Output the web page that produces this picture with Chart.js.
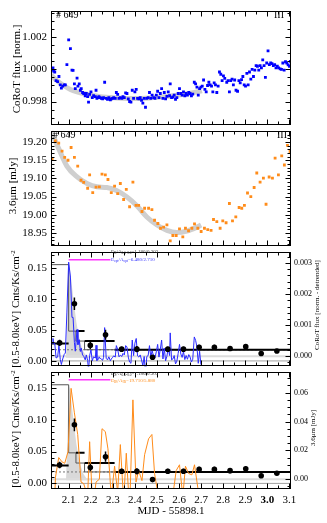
<!DOCTYPE html>
<html>
<head>
<meta charset="utf-8">
<script src="https://cdn.jsdelivr.net/npm/chart.js@4.4.1/dist/chart.umd.min.js"></script>
<style>
  html, body { margin: 0; padding: 0; background: #fff; }
  #wrap { position: relative; width: 327px; height: 523px; overflow: hidden;
          font-family: 'Liberation Serif', 'Times New Roman', serif; color: #000; }
  #wrap canvas { position: absolute; left: 0; }
  .lbl { position: absolute; white-space: nowrap; line-height: 1; transform: translate(0, -50%); z-index: 5; }
  .lbl.r { transform: translate(-100%, -50%); }
  .vt { position: absolute; white-space: nowrap; line-height: 1; transform: translate(-50%, -50%) rotate(-90deg); z-index: 5; }
  .vt sup { font-size: 7px; vertical-align: 4px; }
  .note { font-size: 5px; }
  .note sub { font-size: 3.5px; vertical-align: -1px; }
</style>
</head>
<body>
<div id="wrap">
  <canvas id="p1" width="327" height="136" style="top:0px"></canvas>
  <canvas id="p2" width="327" height="137" style="top:120px"></canvas>
  <canvas id="p3" width="327" height="136" style="top:241px"></canvas>
  <canvas id="p4" width="327" height="162" style="top:361px"></canvas>

  <div class="lbl" style="left:56px;top:15px;font-size:10px"># 649</div>
  <div class="lbl r" style="left:284px;top:15px;font-size:10px">III</div>
  <div class="lbl" style="left:53px;top:135px;font-size:10px"># 649</div>
  <div class="lbl r" style="left:287px;top:135px;font-size:10px">III</div>

  <div class="vt" style="left:16px;top:69px;font-size:11px">CoRoT flux [norm.]</div>
  <div class="vt" style="left:12px;top:186px;font-size:11px">3.6μm [mJy]</div>
  <div class="vt" style="left:15px;top:309px;font-size:11px">[0.5-8.0keV] Cnts/Ks/cm<sup>-2</sup></div>
  <div class="vt" style="left:15px;top:429px;font-size:11px">[0.5-8.0keV] Cnts/Ks/cm<sup>-2</sup></div>
  <div class="vt" style="left:317px;top:305px;font-size:7px">CoRoT flux [norm. - detrended]</div>
  <div class="vt" style="left:313px;top:428px;font-size:7px">3.6μm [mJy]</div>

  <div class="lbl note" style="left:111px;top:252px;color:#333">E<sub>X</sub>/A<sub>0.5-8.0</sub>=1.180/0.303</div>
  <div class="lbl note" style="left:111px;top:259.5px;color:#3333ff">E<sub>opt</sub>/A<sub>opt</sub>=6.480/2.710</div>
  <div class="lbl note" style="left:111px;top:374px;color:#333">E<sub>X</sub>/A<sub>0.5-8.0</sub>=1.180/0.303</div>
  <div class="lbl note" style="left:111px;top:381px;color:#ff8c1a">E<sub>IR</sub>/A<sub>IR</sub>=19.710/5.880</div>
</div>

<script>
// ── DATA ────────────────────────────────────────
const xTicks = [2.1, 2.2, 2.3, 2.4, 2.5, 2.6, 2.7, 2.8, 2.9, 3.0, 3.1];

// CoRoT light curve (normalised)
const corotT = [
  2.025,2.029,2.032,2.037,2.043,2.050,2.056,2.062,2.067,2.073,
  2.080,2.085,2.092,2.100,2.108,2.115,2.120,2.126,2.130,2.138,
  2.142,2.148,2.153,2.157,2.163,2.168,2.175,2.180,2.186,2.190,
  2.195,2.201,2.207,2.213,2.221,2.224,2.228,2.233,2.237,2.243,
  2.248,2.254,2.258,2.263,2.270,2.276,2.282,2.289,2.293,2.299,
  2.304,2.311,2.316,2.322,2.328,2.334,2.341,2.346,2.352,2.358,
  2.364,2.370,2.376,2.382,2.388,2.394,2.400,2.406,2.412,2.418,
  2.424,2.430,2.436,2.442,2.448,2.454,2.460,2.466,2.472,2.478,
  2.485,2.491,2.497,2.503,2.509,2.515,2.521,2.527,2.533,2.539,
  2.545,2.551,2.557,2.560,2.566,2.572,2.578,2.584,2.590,2.596,
  2.602,2.608,2.614,2.620,2.626,2.632,2.638,2.644,2.650,2.656,
  2.662,2.669,2.675,2.681,2.687,2.693,2.699,2.705,2.711,2.717,
  2.723,2.729,2.735,2.741,2.747,2.753,2.759,2.765,2.771,2.777,
  2.783,2.789,2.795,2.801,2.807,2.816,2.822,2.828,2.834,2.840,
  2.846,2.852,2.858,2.865,2.871,2.877,2.883,2.889,2.895,2.901,
  2.907,2.913,2.919,2.925,2.931,2.937,2.943,2.949,2.955,2.961,
  2.967,2.973,2.979,2.985,2.991,2.997,3.003,3.009,3.015,3.021,
  3.027,3.033,3.039,3.045,3.051,3.058,3.064,3.070,3.076,3.082,
  3.088,3.094,3.100,3.104
];
const corotF = [
  1.00000,1.00010,0.99990,0.99984,0.99930,0.99924,0.99956,0.99904,0.99884,0.99896,
  0.99904,0.99904,1.00030,1.00184,1.00130,0.99996,0.99994,0.99910,0.99880,0.99946,
  0.99896,0.99910,0.99870,0.99880,0.99856,0.99850,0.99836,0.99850,0.99830,0.99796,
  0.99844,0.99860,0.99824,0.99836,0.99830,0.99870,0.99820,0.99824,0.99830,0.99824,
  0.99820,0.99816,0.99824,0.99920,0.99820,0.99814,0.99824,0.99810,0.99816,0.99820,
  0.99824,0.99820,0.99856,0.99844,0.99820,0.99824,0.99820,0.99830,0.99824,0.99854,
  0.99850,0.99816,0.99800,0.99796,0.99870,0.99820,0.99860,0.99876,0.99820,0.99816,
  0.99824,0.99808,0.99790,0.99820,0.99764,0.99820,0.99824,0.99856,0.99820,0.99840,
  0.99824,0.99820,0.99840,0.99864,0.99824,0.99850,0.99880,0.99820,0.99856,0.99816,
  0.99832,0.99860,0.99836,0.99910,0.99824,0.99828,0.99840,0.99814,0.99824,0.99850,
  0.99880,0.99850,0.99840,0.99860,0.99836,0.99850,0.99840,0.99856,0.99850,0.99836,
  0.99846,0.99920,0.99910,0.99890,0.99840,0.99880,0.99890,0.99896,0.99934,0.99876,
  0.99860,0.99900,0.99920,0.99904,0.99896,0.99860,0.99916,0.99904,0.99856,0.99896,
  0.99984,0.99970,0.99930,0.99960,0.99944,0.99920,0.99930,0.99860,0.99930,0.99940,
  0.99904,0.99934,0.99870,0.99864,0.99930,0.99916,0.99936,0.99956,0.99904,0.99896,
  0.99976,0.99904,0.99984,0.99940,1.00000,0.99956,0.99996,1.00024,1.00020,0.99996,
  1.00024,1.00010,1.00060,1.00024,0.99950,1.00040,1.00116,1.00030,1.00040,1.00036,
  1.00024,1.00030,1.00010,1.00020,1.00010,1.00004,1.00000,1.00040,0.99996,1.00048,
  1.00040,1.00028,1.00020,1.00050
];
const corotModelT = [2.020, 2.047, 2.077, 2.108, 2.138, 2.183, 2.243, 2.319, 2.394, 2.469, 2.545, 2.620, 2.696, 2.703];
const corotModelF = [0.99964, 0.99930, 0.99900, 0.99875, 0.99860, 0.99845, 0.99830, 0.99822, 0.99818, 0.99822, 0.99832, 0.99845, 0.99865, 0.99868];
// detrended CoRoT flux, same time stamps as the first points of corotT
const corotResid = [
  0.00042,0.00057,0.00041,0.00041,-0.00006,-0.00003,0.00035,-0.00011,-0.00027,-0.00009,
  0.00006,0.00010,0.00142,0.00303,0.00255,0.00125,0.00125,0.00044,0.00016,0.00086,
  0.00037,0.00053,0.00015,0.00026,0.00004,0.00000,-0.00012,0.00004,-0.00014,-0.00047,
  0.00002,0.00020,-0.00015,-0.00002,-0.00006,0.00035,-0.00014,-0.00009,-0.00002,-0.00006,
  -0.00010,-0.00013,-0.00004,0.00092,-0.00007,-0.00012,-0.00002,-0.00015,-0.00009,-0.00004,
  0.00001,-0.00003,0.00034,0.00022,-0.00002,0.00003,-0.00001,0.00009,0.00004,0.00034,
  0.00030,-0.00003,-0.00019,-0.00023,0.00052,0.00002,0.00042,0.00057,0.00001,-0.00003,
  0.00004,-0.00012,-0.00030,-0.00001,-0.00057,-0.00001,0.00002,0.00034,-0.00002,0.00017,
  0.00000,-0.00005,0.00014,0.00038,-0.00003,0.00022,0.00052,-0.00009,0.00026,-0.00015,
  0.00000,0.00027,0.00002,0.00075,-0.00012,-0.00009,0.00002,-0.00025,-0.00016,0.00009,
  0.00038,0.00007,-0.00004,0.00015,-0.00011,0.00002,-0.00010,0.00005,-0.00003,-0.00019,
  -0.00010,0.00062,0.00051,0.00029,-0.00023,0.00016,-0.00027
];

// Spitzer 3.6um light curve (mJy)
const irT = [
  2.025,2.040,2.055,2.070,2.082,2.097,2.111,2.126,2.141,2.156,
  2.168,2.186,2.195,2.209,2.224,2.239,2.251,2.266,2.278,2.293,
  2.308,2.322,2.334,2.349,2.361,2.376,2.391,2.405,2.417,2.432,
  2.444,2.462,2.477,2.489,2.504,2.516,2.530,2.545,2.560,2.572,
  2.587,2.602,2.617,2.629,2.643,2.658,2.670,2.685,2.700,2.715,
  2.730,2.745,2.756,2.771,2.786,2.798,2.813,2.828,2.842,2.857,
  2.872,2.884,2.896,2.910,2.925,2.940,2.952,2.967,2.982,2.994,
  3.008,3.023,3.035,3.050,3.065,3.077,3.091,3.103
];
const irF = [
  19.152,19.203,19.197,19.175,19.158,19.150,19.185,19.158,19.134,19.095,
  19.089,19.073,19.110,19.061,19.076,19.077,19.112,19.110,19.097,19.061,
  19.079,19.058,19.086,19.042,19.070,19.022,19.090,19.026,19.026,19.009,
  19.018,19.018,19.014,18.985,18.976,18.963,18.966,18.972,18.928,18.943,
  18.943,18.961,18.939,18.963,18.956,18.963,18.975,18.963,18.954,18.963,
  18.959,18.957,18.987,18.981,18.963,18.983,18.978,19.031,18.983,18.994,
  19.020,19.018,19.026,19.060,19.050,19.075,19.115,19.090,19.101,19.029,
  19.104,19.101,19.156,19.110,19.162,19.137,19.191,19.174
];
const irModelT = [2.020, 2.055, 2.092, 2.138, 2.183, 2.228, 2.273, 2.319, 2.364, 2.409, 2.454, 2.500, 2.545, 2.590, 2.635, 2.681, 2.700];
const irModelF = [19.230, 19.182, 19.134, 19.104, 19.086, 19.077, 19.075, 19.066, 19.049, 19.025, 18.994, 18.972, 18.957, 18.951, 18.955, 18.966, 18.972];
// detrended 3.6um flux, same time stamps as the first points of irT
const irResid = [
  -0.070,0.001,0.015,0.012,0.011,0.019,0.063,0.046,0.031,-0.002,
  -0.003,-0.012,0.026,-0.020,-0.002,0.000,0.035,0.033,0.021,-0.012,
  0.009,-0.009,0.024,-0.015,0.018,-0.022,0.055,-0.002,0.006,-0.001,
  0.017,0.028,0.031,0.004,-0.010,-0.015,-0.012,-0.008,-0.027,-0.011,
  0.006,0.010,-0.012,0.009,0.004,0.003,0.010,-0.006,-0.019
];

// Chandra X-ray light curve [0.5-8.0 keV]
const xrayT    = [2.059, 2.126, 2.198, 2.267, 2.340, 2.409, 2.480, 2.549, 2.620, 2.691, 2.760, 2.831, 2.902, 2.972, 3.043];
const xrayRate = [0.029, 0.092, 0.025, 0.042, 0.019, 0.019, 0.006, 0.019, 0.019, 0.022, 0.022, 0.020, 0.023, 0.012, 0.016];
const xrayErr  = [0.005, 0.010, 0.006, 0.008, 0.004, 0.005, 0.003, 0.004, 0.004, 0.004, 0.004, 0.004, 0.004, 0.003, 0.003];

// Bayesian-block style bins
const binEdges = [2.020, 2.100, 2.133, 2.172, 2.308, 3.107];
const binRate  = [0.028, 0.155, 0.048, 0.032, 0.018];
const binThick = [true, false, true, true, true];
const quietLevel = 0.018;

// flare model (shaded) and flare marker
const flareT = [2.088, 2.095, 2.100, 2.105, 2.115, 2.125, 2.135, 2.145, 2.155, 2.165, 2.180, 2.200];
const flareV = [0.005, 0.080, 0.155, 0.150, 0.120, 0.090, 0.062, 0.042, 0.027, 0.016, 0.008, 0.005];
const flareMarkT = [2.100, 2.289];
const flareMarkLevel = 0.163;

// ── HELPERS ─────────────────────────────────────
const X_MIN = 2.02, X_MAX = 3.107;
const pts = (xs, ys) => ys.map((y, i) => ({ x: xs[i], y }));
const hline = (v) => [{ x: X_MIN, y: v }, { x: X_MAX, y: v }];

const errSegs = [];
xrayT.forEach((t, i) => {
  errSegs.push({ x: t, y: xrayRate[i] - xrayErr[i] }, { x: t, y: xrayRate[i] + xrayErr[i] }, { x: t, y: null });
});
const binSteps = binEdges.map((e, i) => ({ x: e, y: binRate[Math.min(i, binRate.length - 1)] }));
const binSegs = [];
binRate.forEach((v, i) => {
  if (!binThick[i]) return;
  binSegs.push({ x: binEdges[i], y: v }, { x: binEdges[i + 1], y: v }, { x: binEdges[i + 1], y: null });
});

function stepsIn(min, max, step) {
  const out = [];
  for (let k = Math.ceil(min / step - 1e-9); k * step <= max + 1e-12; k++) out.push(k * step);
  return out;
}

// ── FRAME + INWARD TICKS ────────────────────────
const frameTicks = {
  id: 'frameTicks',
  afterDatasetsDraw(chart) {
    const o = chart.options.plugins.frameTicks;
    const { ctx, chartArea: a, scales } = chart;
    const xs = scales.x, yl = scales.y, yr = scales.yr;
    const L = Math.round(a.left) + .5, R = Math.round(a.right) - .5;
    const T = Math.round(a.top) + .5, B = Math.round(a.bottom) - .5;
    ctx.save();
    ctx.strokeStyle = '#000';
    ctx.lineWidth = 1;
    ctx.beginPath();
    const xt = (v, len) => {
      const p = Math.round(xs.getPixelForValue(v)) + .5;
      if (p < L || p > R) return;
      ctx.moveTo(p, T); ctx.lineTo(p, T + len);
      ctx.moveTo(p, B); ctx.lineTo(p, B - len);
    };
    const yt = (scale, v, len, side) => {
      const p = Math.round(scale.getPixelForValue(v)) + .5;
      if (p < T || p > B) return;
      if (side !== 'r') { ctx.moveTo(L, p); ctx.lineTo(L + len, p); }
      if (side !== 'l') { ctx.moveTo(R, p); ctx.lineTo(R - len, p); }
    };
    stepsIn(X_MIN, X_MAX, 0.05).forEach(v => xt(v, 3));
    xTicks.forEach(v => xt(v, 5));
    const lSide = yr ? 'l' : 'b';
    stepsIn(yl.min, yl.max, o.yMinor).forEach(v => yt(yl, v, 3, lSide));
    o.yMajor.forEach(v => yt(yl, v, 5, lSide));
    if (yr) {
      stepsIn(yr.min, yr.max, o.rMinor).forEach(v => yt(yr, v, 3, 'r'));
      o.rMajor.forEach(v => yt(yr, v, 5, 'r'));
    }
    ctx.stroke();
    ctx.strokeRect(L, T, R - L, B - T);
    ctx.restore();
  }
};

// ── CHART DEFAULTS ──────────────────────────────
Chart.defaults.color = '#000';
Chart.defaults.font.family = "'Liberation Serif', 'Times New Roman', serif";
Chart.defaults.font.size = 11;

function yAxis(pos, min, max, ticks, digits, size) {
  return {
    type: 'linear', position: pos, min, max,
    afterBuildTicks: s => { s.ticks = ticks.map(v => ({ value: v })); },
    afterFit: s => { s.width = pos === 'left' ? 51 : 36; },
    grid: { display: false, drawTicks: false },
    border: { display: false },
    ticks: { callback: v => v.toFixed(digits), font: { size }, padding: pos === 'left' ? 4 : 3, autoSkip: false }
  };
}
const hiddenX = { type: 'linear', min: X_MIN, max: X_MAX, display: false };

function opts(padding, scales, frame) {
  return {
    responsive: false,
    animation: false,
    events: [],
    layout: { padding },
    plugins: { legend: { display: false }, tooltip: { enabled: false }, frameTicks: frame },
    scales
  };
}

// ── PANEL 1 : CoRoT ─────────────────────────────
const p1Ticks = [0.998, 1.000, 1.002];
new Chart(document.getElementById('p1'), {
  type: 'line',
  data: {
    datasets: [
      { data: pts(corotT, corotF), showLine: false, pointStyle: 'rect', pointRadius: 2,
        pointBackgroundColor: '#0000ff', pointBorderWidth: 0, order: 1 },
      { data: pts(corotModelT, corotModelF), borderColor: '#cfcfcf', borderWidth: 5,
        pointRadius: 0, cubicInterpolationMode: 'monotone', order: 2 }
    ]
  },
  options: opts({ top: 8, bottom: 8, left: 0, right: 36 },
    { x: hiddenX, y: yAxis('left', 0.99651, 1.00367, p1Ticks, 3, 11) },
    { yMajor: p1Ticks, yMinor: 0.0005 }),
  plugins: [frameTicks]
});

// ── PANEL 2 : Spitzer ───────────────────────────
const p2Ticks = [18.95, 19.00, 19.05, 19.10, 19.15, 19.20];
new Chart(document.getElementById('p2'), {
  type: 'line',
  data: {
    datasets: [
      { data: pts(irT, irF), showLine: false, pointStyle: 'rect', pointRadius: 2,
        pointBackgroundColor: '#ff8c1a', pointBorderWidth: 0, order: 1 },
      { data: pts(irModelT, irModelF), borderColor: '#cfcfcf', borderWidth: 5,
        pointRadius: 0, cubicInterpolationMode: 'monotone', order: 2 }
    ]
  },
  options: opts({ top: 8, bottom: 8, left: 0, right: 36 },
    { x: hiddenX, y: yAxis('left', 18.913, 19.2316, p2Ticks, 2, 11) },
    { yMajor: p2Ticks, yMinor: 0.01 }),
  plugins: [frameTicks]
});

// ── PANELS 3/4 : X-ray + detrended optical / IR ─
const xrayTicks = [0.00, 0.05, 0.10, 0.15];

function xrayDatasets(resid, color) {
  return [
    { data: pts(flareT, flareV), borderWidth: 0, pointRadius: 0, fill: { value: 0.005 },
      backgroundColor: '#d9d9d9', yAxisID: 'y', order: 10 },
    { data: hline(0), borderColor: '#dcdcdc', borderWidth: 2, pointRadius: 0, yAxisID: 'yr', order: 9 },
    { data: hline(0), borderColor: '#a0a0a0', borderWidth: 1, pointRadius: 0, yAxisID: 'y', order: 9 },
    { data: hline(quietLevel), borderColor: '#777', borderWidth: 1, borderDash: [2, 2],
      pointRadius: 0, yAxisID: 'y', order: 8 },
    { data: binSteps, stepped: 'after', borderColor: '#555', borderWidth: 1, pointRadius: 0, yAxisID: 'y', order: 7 },
    { data: binSegs, borderColor: '#000', borderWidth: 2, pointRadius: 0, spanGaps: false, yAxisID: 'y', order: 6 },
    { data: flareMarkT.map(t => ({ x: t, y: flareMarkLevel })), borderColor: '#ff33ff', borderWidth: 1.5,
      pointRadius: 0, yAxisID: 'y', order: 5 },
    { data: resid, borderColor: color, borderWidth: 1, pointRadius: 0, yAxisID: 'yr', order: 4 },
    { data: errSegs, borderColor: '#000', borderWidth: 1.5, pointRadius: 0, spanGaps: false, yAxisID: 'y', order: 3 },
    { data: pts(xrayT, xrayRate), showLine: false, pointStyle: 'circle', pointRadius: 2.8,
      pointBackgroundColor: '#000', pointBorderWidth: 0, yAxisID: 'y', order: 2 }
  ];
}

const p3Right = [0.000, 0.001, 0.002, 0.003];
new Chart(document.getElementById('p3'), {
  type: 'line',
  data: { datasets: xrayDatasets(pts(corotT, corotResid), '#2b2bff') },
  options: opts({ top: 8, bottom: 8, left: 0, right: 0 },
    { x: hiddenX,
      y: yAxis('left', -0.0088, 0.176, xrayTicks, 2, 11),
      yr: yAxis('right', -0.00033, 0.00337, p3Right, 3, 8) },
    { yMajor: xrayTicks, yMinor: 0.01, rMajor: p3Right, rMinor: 0.0002 }),
  plugins: [frameTicks]
});

const p4Right = [0.00, 0.02, 0.04, 0.06];
new Chart(document.getElementById('p4'), {
  type: 'line',
  data: { datasets: xrayDatasets(pts(irT, irResid), '#ff8c1a') },
  options: opts({ top: 8, bottom: 0, left: 0, right: 0 },
    { x: {
        type: 'linear', min: X_MIN, max: X_MAX,
        afterBuildTicks: s => { s.ticks = xTicks.map(v => ({ value: v })); },
        afterFit: s => { s.height = 34; },
        grid: { display: false, drawTicks: false },
        border: { display: false },
        ticks: {
          callback: v => v.toFixed(1), padding: 5, autoSkip: false, maxRotation: 0,
          font: c => ({ size: 11, weight: c.tick && c.tick.value === 3.0 ? 'bold' : 'normal' })
        },
        title: { display: true, text: 'MJD - 55898.1', font: { size: 11 }, padding: { top: 0, bottom: 5 } }
      },
      y: yAxis('left', -0.0088, 0.1757, xrayTicks, 2, 11),
      yr: yAxis('right', -0.0068, 0.0746, p4Right, 2, 8) },
    { yMajor: xrayTicks, yMinor: 0.01, rMajor: p4Right, rMinor: 0.005 }),
  plugins: [frameTicks]
});
</script>
</body>
</html>
